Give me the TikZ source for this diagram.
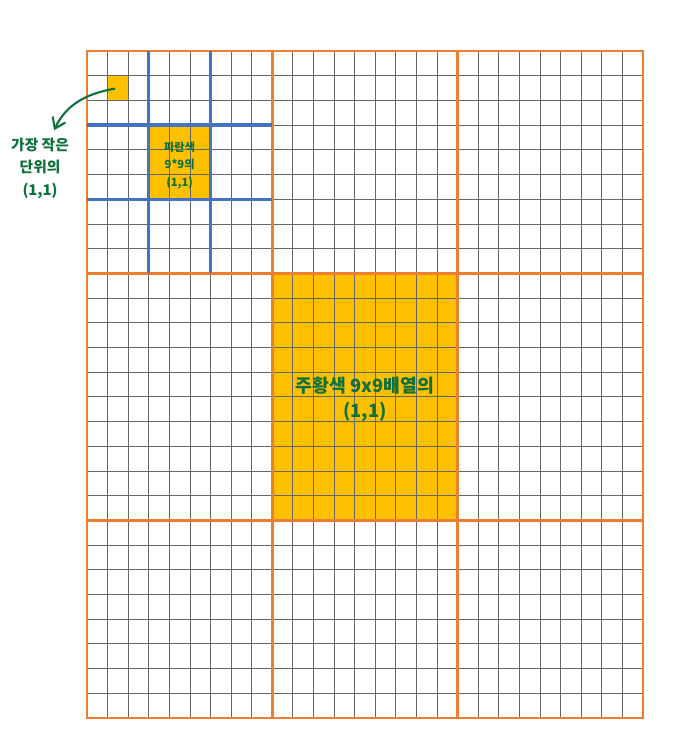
\documentclass[tikz,border=0pt]{standalone}
\usepackage{fontspec}
\newfontfamily\kofont{Noto Sans CJK KR}
\usepackage{tikz}
\usetikzlibrary{arrows.meta,positioning,calc,fit}
\usepackage{xcolor}
\definecolor{gridorange}{RGB}{237,125,49}
\definecolor{gridblue}{RGB}{68,114,196}
\definecolor{cellyellow}{RGB}{255,192,0}
\definecolor{pengreen}{RGB}{14,112,60}
\definecolor{cellgray}{RGB}{102,102,102}

\begin{document}
\begin{tikzpicture}[x=0.5148cm, y=-0.6176cm,
    thin line/.style={draw=cellgray, line width=0.6pt},
    block line/.style={draw=gridorange, line width=2pt},
    sub line/.style={draw=gridblue, line width=2.4pt},
    cell/.style={fill=cellyellow, draw=none},
    note/.style={font=\kofont\bfseries, text=pengreen, align=center, inner sep=1pt}]
\useasboundingbox (-4.2247,-2.0645) rectangle (28.796,28.538);

% yellow cells
\fill[cell] (9,9) rectangle (18,19);
\fill[cell] (3,3) rectangle (6,6);
\node[cell, inner sep=0pt, fit={(1,1) (2,2)}] (unit) {};

% fine grid
\foreach \i in {0,...,27} {
  \draw[thin line] (\i,0) -- (\i,27);
  \draw[thin line] (0,\i) -- (27,\i);
}

% 9x9 blocks
\draw[block line] (0,0) rectangle (27,27);
\foreach \i in {9,18} \draw[block line] (\i,0) -- (\i,27);
\foreach \j in {9,19} \draw[block line] (0,\j) -- (27,\j);

% 3x3 blocks
\foreach \i in {3,6} {
  \draw[sub line] (\i,0) -- (\i,9);
  \draw[sub line] (0,\i) -- (9,\i);
}

% labels
\node[note, font=\kofont\bfseries\fontsize{8}{12.5}\selectfont] (blue) at (4.5,4.62) {파란색\\9*9의\\(1,1)};
\node[note, font=\kofont\bfseries\fontsize{13}{18}\selectfont] (orange) at (13.5,14.1) {주황색 9x9배열의\\(1,1)};
\node[note, font=\kofont\bfseries\fontsize{10.5}{16}\selectfont] (lbl) at (-2.28,4.75) {가장 작은\\단위의\\(1,1)};
\draw[pengreen, line width=1.5pt, -{Straight Barb[length=2.5mm,width=3.5mm]}, shorten <=2pt]
  (unit.center) to[out=190, in=65] ([xshift=0.35cm,yshift=0.15cm]lbl.north);
\end{tikzpicture}
\end{document}
